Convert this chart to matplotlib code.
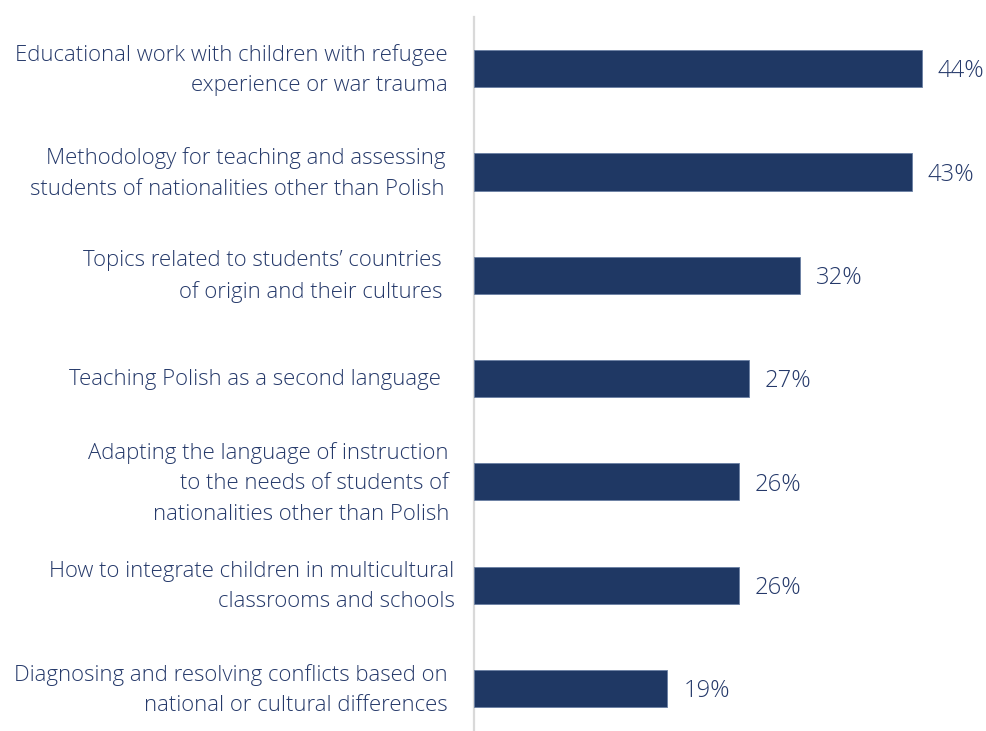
import matplotlib
matplotlib.use("Agg")
import matplotlib.pyplot as plt

categories = [
    "Educational work with children with refugee\nexperience or war trauma",
    "Methodology for teaching and assessing\nstudents of nationalities other than Polish",
    "Topics related to students\u2019 countries\nof origin and their cultures",
    "Teaching Polish as a second language",
    "Adapting the language of instruction\nto the needs of students of\nnationalities other than Polish",
    "How to integrate children in multicultural\nclassrooms and schools",
    "Diagnosing and resolving conflicts based on\nnational or cultural differences",
]
values = [44, 43, 32, 27, 26, 26, 19]
value_labels = ["44%", "43%", "32%", "27%", "26%", "26%", "19%"]

# gap (in pixels) between each category label and the axis line
label_gaps = [26, 29, 32, 33, 25, 19.5, 26]

BAR = "#1F3864"
TEXT = "#25396A"
FONT = "Open Sans"
FS = 15.9
FS_VAL = 17.2

W, H, DPI = 986, 731, 100
fig = plt.figure(figsize=(W / DPI, H / DPI), dpi=DPI)
fig.patch.set_facecolor("white")

left_px, top_px = 474, 17
row_px = 103.3
x_max = 50
px_per_unit = 10.18
ax_w = x_max * px_per_unit
ax_h = 7 * row_px
ax = fig.add_axes([left_px / W, 1 - (top_px + ax_h) / H, ax_w / W, ax_h / H])

y = list(range(len(values)))
ax.barh(y, values, height=0.36, color=BAR, edgecolor="#6a7fa3", linewidth=0.6, zorder=3)
ax.set_ylim(len(values) - 0.5, -0.5)
ax.set_xlim(0, x_max)

for s in ["top", "right", "bottom"]:
    ax.spines[s].set_visible(False)
ax.spines["left"].set_color("#d9d9d9")
ax.spines["left"].set_linewidth(1.6)
ax.set_xticks([])
ax.set_yticks([])

for yi, v, lab in zip(y, values, value_labels):
    ax.annotate(lab, xy=(v, yi), xytext=(11.5, -2), textcoords="offset points",
                ha="left", va="center", fontsize=FS_VAL, color=TEXT, family=FONT,
                fontweight="light")

for yi, cat, gap in zip(y, categories, label_gaps):
    ax.annotate(cat, xy=(0, yi), xytext=(-gap * 72 / DPI, -1), textcoords="offset points",
                ha="right", va="center", multialignment="right",
                fontsize=FS, color=TEXT, family=FONT, fontweight="light",
                linespacing=1.6, annotation_clip=False)

fig.savefig("out.png", dpi=DPI, facecolor="white")
